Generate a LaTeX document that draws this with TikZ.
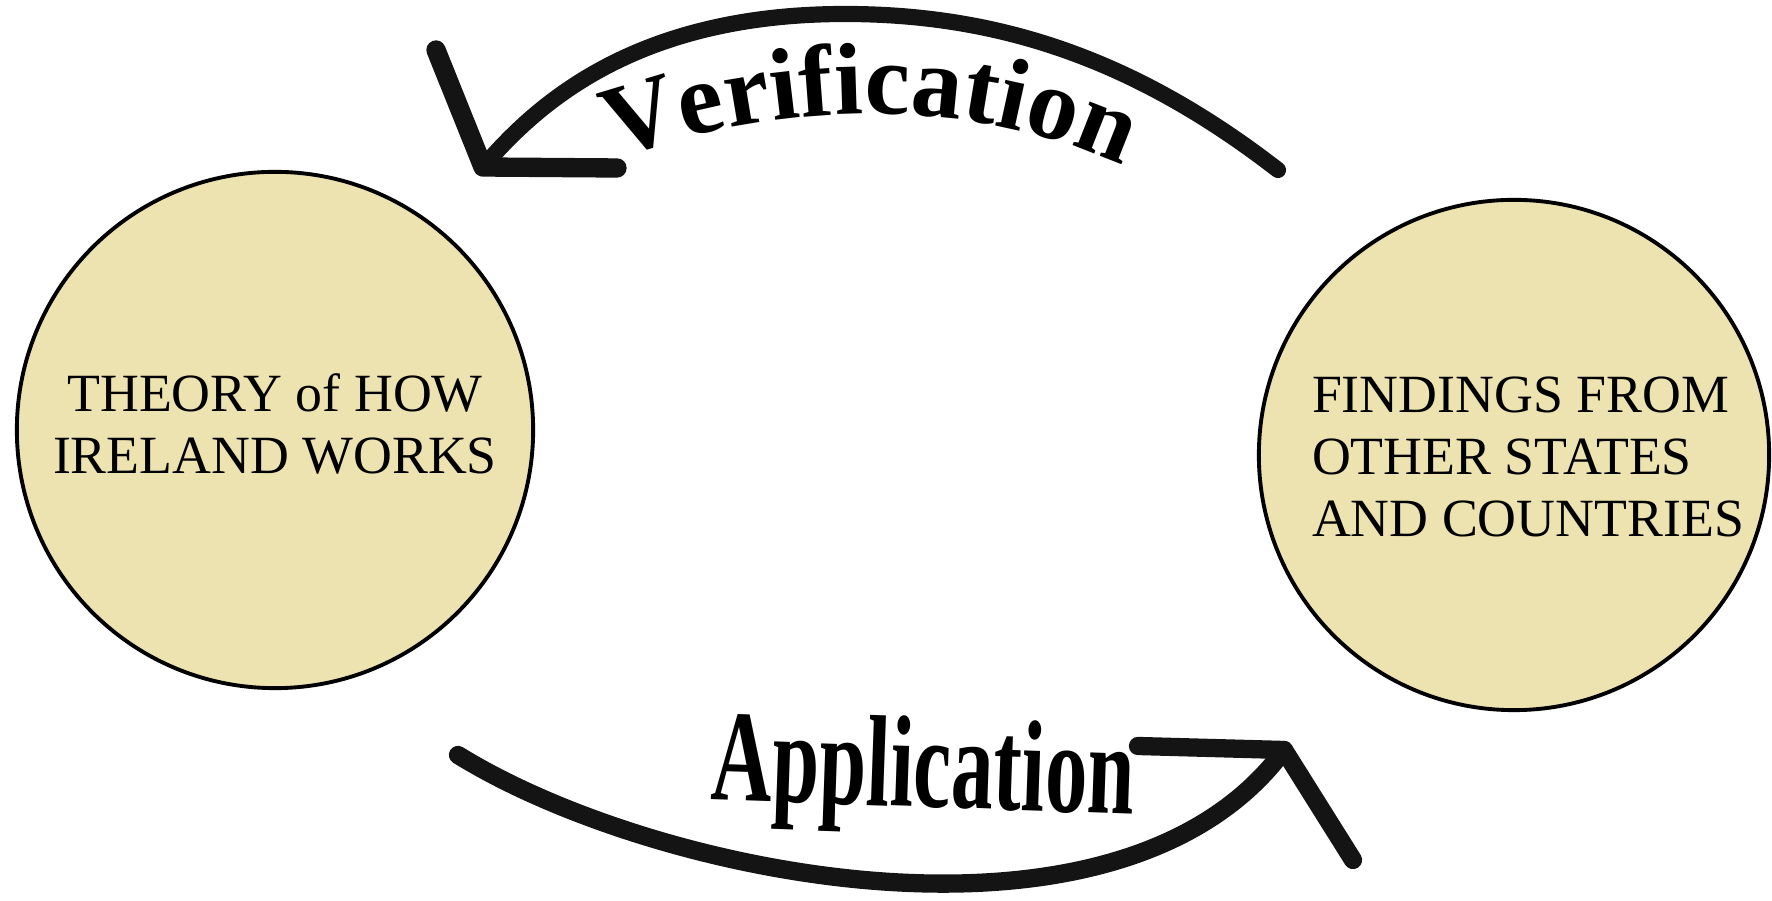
\documentclass[tikz,border=0pt]{standalone}
\usepackage{fontspec}
\setmainfont{Liberation Serif}
\newfontfamily\appfont{Liberation Serif}[FakeStretch=0.65]
\usetikzlibrary{decorations.text}
\definecolor{disccol}{RGB}{237,227,176}
\definecolor{ink}{RGB}{20,20,20}
\newcommand\verifont{\bfseries\fontsize{29}{29}\selectfont}
\begin{document}
\begin{tikzpicture}[x=0.01cm,y=-0.01cm,
  disc/.style={circle, draw=black, line width=1.1pt, fill=disccol, minimum size=5.16cm, inner sep=0pt},
  disctext/.style={font=\fontsize{15.3}{17.6}\selectfont, inner sep=0pt},
  arrowline/.style={draw=ink, line width=5.2pt, line cap=round, line join=round}]
\useasboundingbox (0,0) rectangle (1772,901);
% circles
\node[disc] (theory) at (275,430) {};
\node[disc, minimum size=5.10cm] (findings) at (1514,455) {};
\node[disctext, align=center] (theorytext) at (275,424) {THEORY of HOW\\IRELAND WORKS};
\node[disctext, align=left] (findingstext) at (1528,457) {FINDINGS FROM\\OTHER STATES\\AND COUNTRIES};
% verification arrow
\coordinate (vstart) at (1278,170);
\coordinate (vtop) at (845,14);
\coordinate (vtip) at (483,167);
\coordinate (varmA) at (436,50);
\coordinate (varmB) at (617,168);
\draw[arrowline, line width=4.6pt] (vstart) .. controls (1136,60) and (1000,14) .. (vtop)
  .. controls (640,14) and (540,100) .. (vtip);
\draw[arrowline, line width=5.5pt] (varmA) -- (vtip) -- (varmB);
\path[decorate, decoration={text along path, text={|\verifont|Verification}, text align=center}]
  (602,164) .. controls (785,97) and (975,95) .. (1135,172);
% application arrow
\coordinate (astart) at (458,755);
\coordinate (atip) at (1284,750);
\coordinate (aarmA) at (1138,746);
\coordinate (aarmB) at (1353,860);
\draw[arrowline] (astart) .. controls (655,877) and (1120,972) .. (atip);
\draw[arrowline] (aarmA) -- (atip) -- (aarmB);
\node[font={\appfont\bfseries\fontsize{37}{38}\selectfont}, anchor=base, inner sep=0pt, rotate=-2] (app) at (922,807) {Application};
\end{tikzpicture}
\end{document}
